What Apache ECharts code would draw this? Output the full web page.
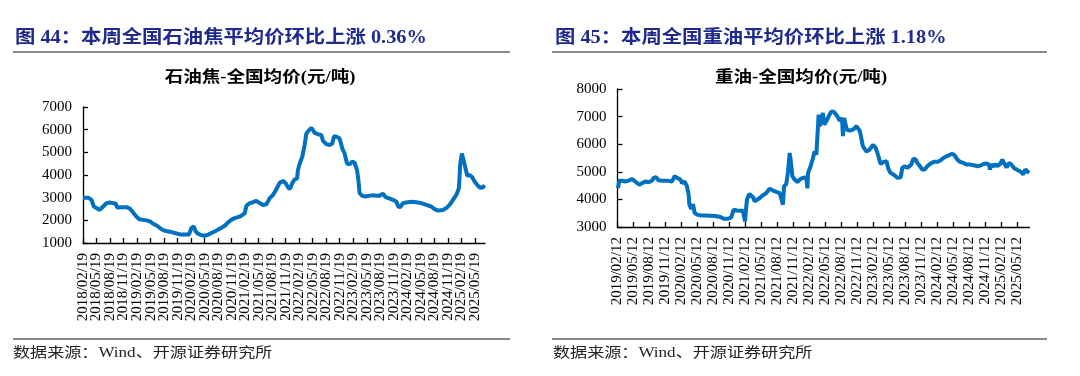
<!DOCTYPE html>
<html>
<head>
<meta charset="utf-8">
<script src="https://cdn.jsdelivr.net/npm/echarts@6/dist/echarts.min.js"></script>
<style>
html,body{margin:0;padding:0;background:#fff;}
#c{width:1080px;height:376px;}
</style>
</head>
<body>
<div id="c"></div>
<script>
// ---- tick labels ----
const cokeLabels = ['2018/02/19','2018/05/19','2018/08/19','2018/11/19','2019/02/19','2019/05/19','2019/08/19','2019/11/19','2020/02/19','2020/05/19','2020/08/19','2020/11/19','2021/02/19','2021/05/19','2021/08/19','2021/11/19','2022/02/19','2022/05/19','2022/08/19','2022/11/19','2023/02/19','2023/05/19','2023/08/19','2023/11/19','2024/02/19','2024/05/19','2024/08/19','2024/11/19','2025/02/19','2025/05/19'];
const oilLabels = ['2019/02/12','2019/05/12','2019/08/12','2019/11/12','2020/02/12','2020/05/12','2020/08/12','2020/11/12','2021/02/12','2021/05/12','2021/08/12','2021/11/12','2022/02/12','2022/05/12','2022/08/12','2022/11/12','2023/02/12','2023/05/12','2023/08/12','2023/11/12','2024/02/12','2024/05/12','2024/08/12','2024/11/12','2025/02/12','2025/05/12'];

// ---- petroleum coke: position in quarters from first label, price (元/吨) ----
const cokeQ = [0,0.38,0.63,0.80,1.00,1.24,1.49,1.74,1.98,2.23,2.43,2.52,2.85,3.22,3.46,3.71,3.95,4.15,4.45,4.69,4.99,5.19,5.48,5.80,6.05,6.42,6.79,7.16,7.53,7.85,8.02,8.20,8.34,8.52,8.76,9.01,9.26,9.50,9.75,9.99,10.24,10.49,10.73,10.98,11.23,11.47,11.72,11.97,12.09,12.34,12.58,12.83,13.08,13.32,13.57,13.82,14.06,14.31,14.56,14.80,15.00,15.17,15.30,15.49,15.67,15.84,15.91,16.04,16.23,16.40,16.53,16.73,16.90,17.02,17.14,17.39,17.64,17.76,18.01,18.25,18.45,18.58,18.80,18.99,19.19,19.36,19.54,19.73,19.93,20.10,20.28,20.38,20.47,20.67,20.92,21.21,21.46,21.71,21.95,22.20,22.40,22.69,22.94,23.19,23.33,23.48,23.68,23.93,24.29,24.67,25.03,25.41,25.77,26.02,26.27,26.64,26.89,27.13,27.38,27.63,27.82,27.92,28.04,28.16,28.31,28.44,28.61,28.81,28.98,29.23,29.42,29.60,29.72];
const cokeVal = [3000,3000,2900,2610,2540,2460,2610,2760,2790,2760,2730,2570,2580,2580,2520,2350,2170,2050,2020,2000,1940,1850,1760,1610,1540,1500,1440,1380,1370,1380,1660,1730,1510,1410,1340,1320,1370,1440,1510,1590,1670,1760,1910,2020,2100,2140,2200,2320,2640,2760,2800,2860,2760,2680,2710,2980,3120,3370,3660,3740,3640,3460,3370,3640,3810,3840,4220,4510,4810,5320,5830,5980,6080,5980,5860,5800,5760,5510,5360,5320,5390,5710,5680,5610,5170,4950,4510,4470,4590,4540,4220,3780,3200,3080,3050,3090,3110,3090,3090,3170,3020,2960,2900,2830,2610,2580,2760,2790,2820,2800,2760,2680,2610,2490,2430,2460,2540,2680,2900,3120,3420,4510,4950,4660,4290,3960,4000,3900,3710,3520,3430,3460,3550];

// ---- heavy oil ----
const oilQ = [0.03,0.11,0.28,0.49,0.70,0.91,1.01,1.16,1.36,1.53,1.74,1.95,2.16,2.26,2.41,2.57,2.78,3.09,3.41,3.57,3.72,3.93,4.03,4.20,4.34,4.45,4.49,4.61,4.72,4.82,4.97,5.18,5.49,5.80,6.11,6.43,6.64,6.91,7.11,7.26,7.47,7.68,7.84,7.97,8.03,8.09,8.24,8.36,8.47,8.57,8.68,8.89,9.09,9.30,9.51,9.72,9.93,10.14,10.24,10.34,10.39,10.41,10.55,10.66,10.76,10.82,10.93,11.07,11.24,11.39,11.59,11.80,11.87,11.91,12.07,12.22,12.32,12.43,12.53,12.57,12.64,12.74,12.84,12.91,13.05,13.20,13.37,13.53,13.74,13.89,14.03,14.09,14.16,14.24,14.33,14.51,14.72,14.93,15.14,15.34,15.55,15.76,15.97,16.14,16.28,16.45,16.59,16.82,16.91,17.03,17.18,17.32,17.49,17.59,17.70,17.80,17.95,18.11,18.22,18.36,18.49,18.64,18.74,18.91,19.05,19.20,19.36,19.57,19.78,19.99,20.16,20.24,20.37,20.57,20.78,20.93,21.07,21.24,21.41,21.62,21.82,22.07,22.32,22.53,22.70,22.87,23.07,23.22,23.28,23.36,23.53,23.64,23.74,23.91,24.05,24.16,24.32,24.47,24.62,24.78,24.95,25.09,25.24,25.36,25.49,25.61,25.72];
const oilVal = [4410,4680,4680,4650,4680,4740,4720,4620,4530,4590,4650,4620,4680,4780,4800,4690,4680,4680,4650,4840,4780,4720,4590,4650,4470,4170,3810,3660,3830,3510,3450,3420,3420,3410,3400,3360,3300,3300,3350,3630,3600,3590,3590,3200,3630,3990,4200,4230,4080,3930,3990,4050,4150,4230,4390,4320,4270,4230,4170,3810,3750,4470,4560,5020,5680,5440,4840,4720,4630,4720,4780,4800,4400,4960,5200,5500,5740,5620,5560,7070,6650,6590,7130,6710,6830,7010,7190,7170,7010,6850,6950,6290,6950,7010,6530,6490,6530,6650,6490,5920,5740,5800,5980,5860,5620,5280,5350,5380,5140,4990,4920,4870,4780,4740,4800,5140,5200,5140,5160,5260,5480,5440,5320,5200,5080,5080,5200,5300,5360,5360,5400,5360,5500,5560,5620,5650,5600,5440,5360,5320,5260,5260,5230,5200,5230,5280,5300,5260,5080,5260,5200,5280,5200,5280,5440,5320,5160,5320,5260,5140,5080,5040,4990,4900,5080,5040,4960];

const zip = (a, b) => a.map((x, i) => [x, b[i]]);

const serifCJK = '"Liberation Serif","Noto Sans CJK SC"';
const lineBlue = '#0070C0';

// plot areas
const P = [
  { left: 83, top: 107, width: 402, height: 136, max: 29.75, labels: cokeLabels, ymin: 1000, ymax: 7000 },
  { left: 617.5, top: 89, width: 412, height: 138, max: 25.75, labels: oilLabels, ymin: 3000, ymax: 8000 }
];

const grids = [], xAxes = [], yAxes = [];
P.forEach((p, i) => {
  grids.push({ left: p.left, top: p.top, width: p.width, height: p.height });
  grids.push({ left: p.left, top: p.top, width: p.width * (p.labels.length - 1) / p.max, height: p.height });
  xAxes.push({
    type: 'value', gridIndex: 2 * i, min: 0, max: p.max,
    axisLine: { show: true, lineStyle: { color: '#000', width: 1.3 } },
    axisTick: { show: false }, axisLabel: { show: false }, splitLine: { show: false }
  });
  xAxes.push({
    type: 'category', gridIndex: 2 * i + 1, data: p.labels, boundaryGap: false,
    axisLine: { show: false },
    axisTick: { show: true, inside: true, length: 5, interval: 0, lineStyle: { color: '#000', width: 1.3 } },
    axisLabel: { interval: 0, rotate: 90, margin: 10, fontSize: 15, fontFamily: 'Liberation Serif', color: '#000' },
    splitLine: { show: false }
  });
  yAxes.push({
    type: 'value', gridIndex: 2 * i, min: p.ymin, max: p.ymax, interval: 1000,
    axisLine: { show: true, lineStyle: { color: '#000', width: 1.3 } },
    axisTick: { show: true, inside: true, length: 5, lineStyle: { color: '#000', width: 1.3 } },
    axisLabel: { fontSize: 15, fontFamily: 'Liberation Serif', color: '#000', margin: 11, formatter: v => String(v) },
    splitLine: { show: false }
  });
  yAxes.push({ type: 'value', gridIndex: 2 * i + 1, min: 0, max: 1, show: false });
});

function txt(x, y, text, font, fill, align, sx) {
  return { type: 'text', x: x, y: y, scaleX: sx, silent: true,
    style: { text: text, font: font, fill: fill, textAlign: align, textVerticalAlign: 'middle', verticalAlign: 'middle' } };
}
function hline(x1, x2, y) {
  return { type: 'line', silent: true, shape: { x1: x1, y1: y, x2: x2, y2: y }, style: { stroke: '#8a8a8a', lineWidth: 2 } };
}

const chart = echarts.init(document.getElementById('c'), null, { renderer: 'canvas' });
chart.setOption({
  backgroundColor: '#fff',
  animation: false,
  grid: grids,
  xAxis: xAxes,
  yAxis: yAxes,
  series: [
    { type: 'line', xAxisIndex: 0, yAxisIndex: 0, data: zip(cokeQ, cokeVal), showSymbol: false,
      lineStyle: { color: lineBlue, width: 4 }, itemStyle: { color: lineBlue } },
    { type: 'line', xAxisIndex: 2, yAxisIndex: 2, data: zip(oilQ, oilVal), showSymbol: false,
      lineStyle: { color: lineBlue, width: 4 }, itemStyle: { color: lineBlue } }
  ],
  graphic: [
    txt(15, 38, '图 44：本周全国石油焦平均价环比上涨 0.36%', 'bold 18px ' + serifCJK, '#1f2a8c', 'left', 1.13),
    txt(555, 38, '图 45：本周全国重油平均价环比上涨 1.18%', 'bold 18px ' + serifCJK, '#1f2a8c', 'left', 1.13),
    hline(13, 510, 52), hline(552, 1047, 52),
    txt(260, 78, '石油焦-全国均价(元/吨)', 'bold 16px ' + serifCJK, '#000', 'center', 1.16),
    txt(801, 78, '重油-全国均价(元/吨)', 'bold 16px ' + serifCJK, '#000', 'center', 1.16),
    hline(13, 510, 339), hline(552, 1047, 339),
    txt(13, 353, '数据来源：Wind、开源证券研究所', '14px ' + serifCJK, '#222', 'left', 1.22),
    txt(553, 353, '数据来源：Wind、开源证券研究所', '14px ' + serifCJK, '#222', 'left', 1.22)
  ]
});
</script>
</body>
</html>
